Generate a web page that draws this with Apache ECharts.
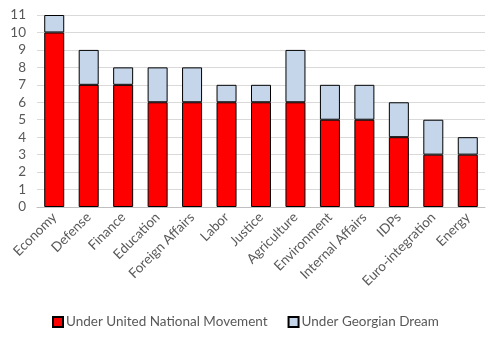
<!DOCTYPE html>
<html><head><meta charset="utf-8">
<script src="https://cdn.jsdelivr.net/npm/echarts@6/dist/echarts.min.js"></script>
<style>html,body{margin:0;padding:0;background:#fff}#c{width:500px;height:337px}</style>
</head><body><div id="c"></div>
<script>
const categories = ["Economy","Defense","Finance","Education","Foreign Affairs","Labor","Justice","Agriculture","Environment","Internal Affairs","IDPs","Euro-integration","Energy"];
const unm = [10,7,7,6,6,6,6,6,5,5,4,3,3];
const gd = [1,2,1,2,2,1,1,3,2,2,2,2,1];
const yTicks = [0,1,2,3,4,5,6,7,8,9,10,11];

const chart = echarts.init(document.getElementById('c'), null, {renderer:'canvas'});
const font = 'Lato, sans-serif';
chart.setOption({
  animation:false,
  grid:{left:37,right:15,top:15,bottom:130,containLabel:false},
  legend:{
    top:310,left:47,itemWidth:10,itemHeight:10,itemGap:20,icon:'rect',
    textStyle:{color:'#595959',fontSize:13.5,fontFamily:font,padding:[0,0,0,-2]},
    data:['Under United National Movement','Under Georgian Dream']
  },
  xAxis:{
    type:'category',data:categories,
    axisLine:{lineStyle:{color:'#bfbfbf'}},
    axisTick:{show:false},
    axisLabel:{rotate:45,interval:0,color:'#595959',fontSize:13.5,fontFamily:font,margin:8}
  },
  yAxis:{
    type:'value',min:yTicks[0],max:yTicks[yTicks.length-1],interval:1,
    axisLine:{show:false},axisTick:{show:false},
    splitLine:{lineStyle:{color:'#d9d9d9'}},
    axisLabel:{color:'#595959',fontSize:13.5,fontFamily:font,margin:11}
  },
  series:[
    {name:'Under United National Movement',type:'bar',stack:'s',data:unm,barWidth:20,
     itemStyle:{color:'#ff0000',borderColor:'#000',borderWidth:1}},
    {name:'Under Georgian Dream',type:'bar',stack:'s',data:gd,barWidth:20,
     itemStyle:{color:'#c5d6ea',borderColor:'#000',borderWidth:1}}
  ]
});
</script></body></html>
